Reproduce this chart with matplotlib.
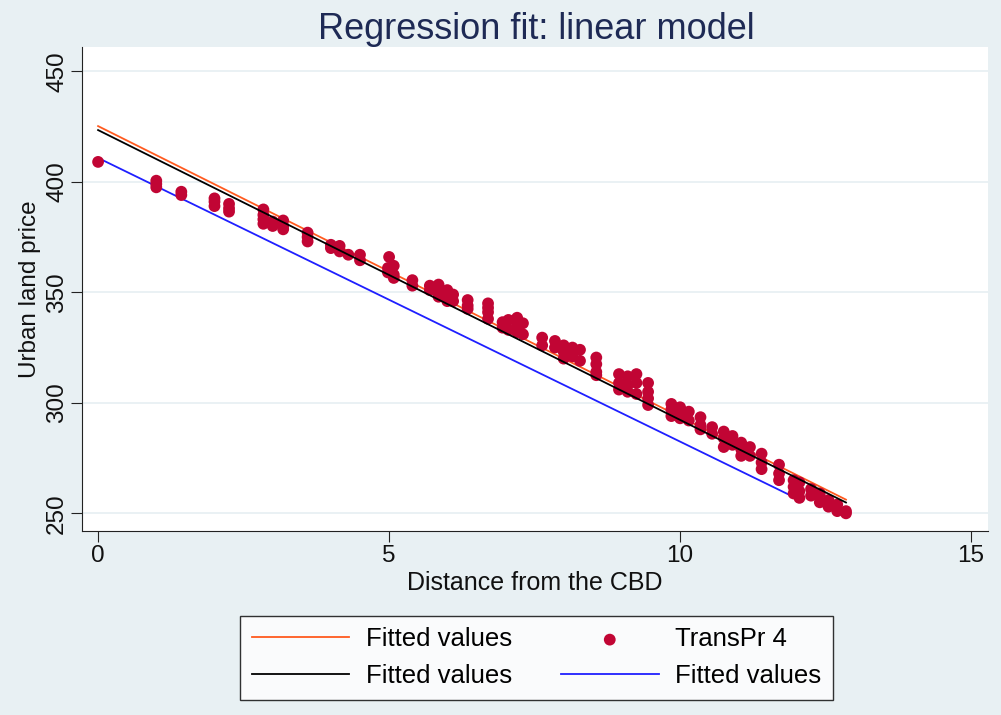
import numpy as np
import matplotlib.pyplot as plt

plt.rcParams['font.family'] = ['Liberation Sans', 'DejaVu Sans']

# scatter points: distance from CBD and land price
distance = [0, 1.0, 1.0, 1.0, 1.43, 1.43, 2.0, 2.0, 2.0, 2.25, 2.25, 2.25,
            2.84, 2.84, 2.84, 2.84, 3.0, 3.0, 3.18, 3.18, 3.18, 3.6, 3.6, 3.6,
            4.0, 4.0, 4.15, 4.15, 4.3, 4.5, 4.5, 5.0, 4.98, 4.98, 5.08, 5.08, 5.08,
            5.4, 5.4, 5.7, 5.7, 5.85, 5.85, 5.85, 6.0, 6.0, 6.0, 6.1, 6.1,
            6.35, 6.35, 6.35, 6.7, 6.7, 6.7, 6.7, 6.95, 6.95, 7.05, 7.05,
            7.2, 7.2, 7.2, 7.3, 7.3, 7.63, 7.63, 7.85, 7.85, 8.0, 8.0, 8.0,
            8.15, 8.15, 8.28, 8.28, 8.56, 8.56, 8.56, 8.56, 8.95, 8.95, 8.95,
            9.1, 9.1, 9.1, 9.25, 9.25, 9.25, 9.45, 9.45, 9.45, 9.45,
            9.85, 9.85, 9.85, 10.0, 10.0, 10.0, 10.15, 10.15, 10.35, 10.35, 10.35,
            10.55, 10.55, 10.75, 10.75, 10.75, 10.9, 10.9, 11.05, 11.05, 11.05,
            11.2, 11.2, 11.4, 11.4, 11.4, 11.7, 11.7, 11.7, 11.95, 11.95, 11.95,
            12.05, 12.05, 12.05, 12.25, 12.25, 12.4, 12.4, 12.55, 12.55,
            12.7, 12.7, 12.85, 12.85]
price = [409, 400.5, 399, 397.5, 395.5, 394, 392.5, 391, 389, 390, 388, 386.5,
         387.5, 385, 383, 381, 382, 380, 382.5, 380, 378.5, 377, 375, 373,
         371.5, 370, 371, 368.5, 367, 367, 364.5, 366, 361, 359, 362, 358, 356.5,
         355.5, 353, 353, 351, 353.5, 350, 348, 351, 348.5, 346, 349, 346,
         346.5, 344, 342.5, 345, 343, 341, 338, 336.5, 334, 337.5, 333,
         338.5, 335, 332, 336, 331, 329.5, 326, 328, 325, 326, 323, 320,
         325, 321, 324, 319, 320.5, 317.5, 314, 312.5, 313, 309, 306,
         312, 308, 305, 313, 309, 304, 309, 305, 302, 299,
         299.5, 297, 294, 298, 296, 293, 296, 292, 293.5, 290, 288,
         289, 286, 287, 284, 280, 285, 281, 282, 279, 276,
         280, 276, 277, 273, 270, 272, 268, 265, 265, 262, 259,
         264, 260, 257, 261, 258, 259, 255, 256, 253,
         254, 251, 251, 250]

# fitted lines (end points)
fit1_x = [0, 12.85]
fit1_y = [425.2, 256.2]   # orange
fit2_x = [0, 12.85]
fit2_y = [423.4, 254.9]   # black
fit3_x = [0, 12.1]
fit3_y = [410.8, 255.5]   # blue

bg = '#e8f0f3'
fig = plt.figure(figsize=(10.01, 7.15), dpi=100, facecolor=bg)
ax = fig.add_axes([0.082, 0.257, 0.905, 0.677])
ax.set_facecolor('white')

l1, = ax.plot(fit1_x, fit1_y, color='#ff5a1f', lw=1.3, label='Fitted values')
sc = ax.scatter(distance, price, s=72, color='#c10534', edgecolors='none',
                label='TransPr 4', zorder=3)
l2, = ax.plot(fit2_x, fit2_y, color='black', lw=1.3, label='Fitted values', zorder=4)
l3, = ax.plot(fit3_x, fit3_y, color='#1f1fff', lw=1.3, label='Fitted values')

ax.set_xlim(-0.275, 15.29)
ax.set_ylim(241.9, 460.9)
ax.set_xticks([0, 5, 10, 15])
ax.set_yticks([250, 300, 350, 400, 450])
ax.grid(axis='y', color='#e6eff2', lw=1.2)
ax.set_axisbelow(True)
for s in ['top', 'right']:
    ax.spines[s].set_visible(False)
for s in ['left', 'bottom']:
    ax.spines[s].set_color('#222222')
ax.tick_params(direction='out', length=8, color='#222222', labelsize=17.5,
               labelcolor='#111111', pad=2)
plt.setp(ax.get_yticklabels(), rotation=90, va='center')

ax.set_xlabel('Distance from the CBD', fontsize=18, color='#111111', labelpad=3)
ax.set_ylabel('Urban land price', fontsize=17.5, color='#111111', labelpad=4)
fig.suptitle('Regression fit: linear model', fontsize=26, color='#1e2a55',
             x=0.536, y=0.983, va='top')

leg = fig.legend([l1, l2, sc, l3],
                 ['Fitted values', 'Fitted values', 'TransPr 4', 'Fitted values'],
                 ncol=2, loc='center', bbox_to_anchor=(0.536, 0.080),
                 fontsize=18.5, frameon=True, fancybox=False, edgecolor='black',
                 handlelength=3.8, columnspacing=1.9, handletextpad=0.65,
                 labelspacing=0.5, borderpad=0.45, borderaxespad=0)
leg.get_frame().set_linewidth(1.0)

fig.savefig('out.png', dpi=100, facecolor=bg)
